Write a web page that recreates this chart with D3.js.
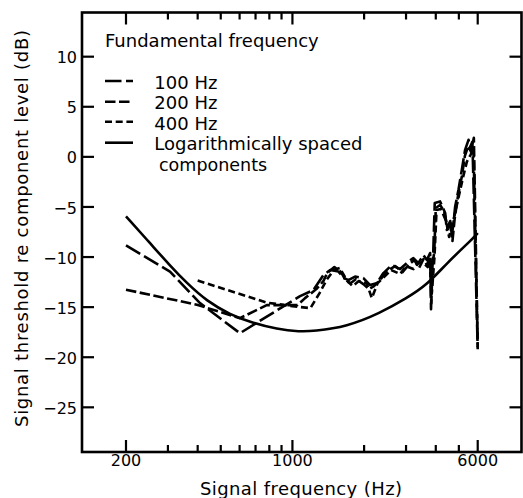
<!DOCTYPE html>
<html><head><meta charset="utf-8">
<script src="https://cdn.jsdelivr.net/npm/d3@7"></script>
<style>body{margin:0;background:#fff}svg{display:block}text{font-family:"DejaVu Sans",sans-serif;fill:#000}</style>
</head><body><svg id="c" width="523" height="498"></svg>
<script>
// ---- data: [signal frequency (Hz), threshold (dB)] ----
const sLog = [[200,-5.95],[250,-8.5],[306,-10.85],[360,-12.6],[437,-14.4],[547,-15.75],[685,-16.6],[859,-17.2],[1077,-17.45],[1224,-17.4],[1692,-16.95],[2335,-15.6],[3020,-14.1],[3670,-12.8],[4450,-10.6],[5760,-8.1],[6000,-7.6]];
const s100 = [[200,-8.84],[306,-11.45],[409,-14.6],[602,-17.6],[1077,-13.9],[1224,-13.3],[1349,-11.8],[1440,-11.3],[1560,-11.45],[1650,-12.1],[1718,-12.3],[1832,-11.95],[1986,-12.1],[2120,-12.8],[2262,-12.6],[2410,-11.6],[2613,-10.8],[2834,-11.2],[3070,-10.45],[3221,-10.1],[3381,-10.6],[3550,-9.8],[3670,-10.3],[3787,-9.6],[3820,-15.2],[3860,-11.5],[3900,-9.8],[3960,-4.6],[4170,-4.45],[4380,-5.6],[4450,-7.3],[4590,-6.6],[4670,-7.9],[4745,-6.6],[4825,-4.95],[4980,-3.3],[5145,-1.3],[5310,0.7],[5490,1.7],[5580,1.0],[5700,1.5],[6000,-19.2]];
const s200 = [[200,-13.26],[397,-14.76],[602,-16.1],[780,-14.8],[1050,-14.8],[1130,-14.1],[1260,-13.2],[1349,-12.4],[1400,-11.6],[1500,-11.0],[1600,-11.5],[1680,-12.4],[1760,-12.6],[1850,-12.2],[1986,-12.7],[2100,-13.2],[2200,-12.9],[2330,-12.3],[2500,-11.4],[2700,-10.9],[2900,-11.5],[3070,-10.8],[3250,-10.3],[3400,-11.1],[3550,-10.2],[3680,-10.8],[3780,-9.9],[3830,-14.6],[3880,-10.5],[3940,-9.6],[4000,-5.1],[4170,-4.8],[4330,-5.4],[4480,-7.0],[4600,-6.4],[4700,-8.4],[4800,-6.2],[4950,-4.0],[5150,-1.9],[5300,0.1],[5480,1.1],[5620,0.5],[5780,1.9],[6000,-19.0]];
const s400 = [[400,-12.35],[780,-14.55],[1000,-14.9],[1190,-15.1],[1300,-13.6],[1390,-12.3],[1490,-11.3],[1580,-11.1],[1700,-12.4],[1790,-12.9],[1900,-12.4],[2050,-12.6],[2155,-14.1],[2280,-12.6],[2400,-12.1],[2600,-11.3],[2834,-11.7],[3000,-10.9],[3221,-11.2],[3381,-10.6],[3550,-10.6],[3700,-11.0],[3800,-10.2],[3850,-13.6],[3950,-10.0],[4030,-5.3],[4200,-5.2],[4420,-6.4],[4550,-8.0],[4650,-7.0],[4800,-5.8],[5000,-3.9],[5200,-2.1],[5400,-0.5],[5600,0.2],[5760,0.8],[6000,-18.8]];
const xMajor = [200,1000,6000];
const xMinor = [300,400,500,600,700,800,900,2000,3000,4000,5000];
const yTicks = [10,5,0,-5,-10,-15,-20,-25];
const legendTitle = "Fundamental frequency";
const legendLabels = ["100 Hz","200 Hz","400 Hz","Logarithmically spaced"];
const legendLabel2 = "components";
const xTitle = "Signal frequency (Hz)";
const yTitle = "Signal threshold re component level (dB)";

const L=82, R=521.5, T=12.5, B=452;
const x = d3.scaleLog().domain([130.7,9163]).range([L,R]);
const y = d3.scaleLinear().domain([-29.46,14.41]).range([B,T]);
const svg = d3.select("#c");

// data lines
const smooth = d3.line().x(d=>x(d[0])).y(d=>y(d[1])).curve(d3.curveBasis);
const lin = d3.line().x(d=>x(d[0])).y(d=>y(d[1]));
const dashes = {"100":"16.5,4.5","200":"10.5,3.5","400":"7,3.7"};
svg.append("path").datum(sLog).attr("d", smooth).attr("fill","none").attr("stroke","#000").attr("stroke-width",2.6);
[[s100,"100"],[s200,"200"],[s400,"400"]].forEach(([s,k])=>{
  svg.append("path").datum(s).attr("d",lin).attr("fill","none").attr("stroke","#000")
    .attr("stroke-width",2.6).attr("stroke-dasharray",dashes[k]).attr("stroke-linejoin","round");
});

// frame
svg.append("rect").attr("x",L).attr("y",T).attr("width",R-L).attr("height",B-T)
  .attr("fill","none").attr("stroke","#000").attr("stroke-width",2.6);

// x ticks (inward, bottom and top)
const gx = svg.append("g");
xMajor.forEach(v=>{
  gx.append("line").attr("x1",x(v)).attr("x2",x(v)).attr("y1",B).attr("y2",B-12).attr("stroke","#000").attr("stroke-width",2.2);
  gx.append("line").attr("x1",x(v)).attr("x2",x(v)).attr("y1",T).attr("y2",T+12).attr("stroke","#000").attr("stroke-width",2.2);
  gx.append("text").attr("x",x(v)).attr("y",466).attr("text-anchor","middle").attr("font-size",16).text(v);
});
xMinor.forEach(v=>{
  gx.append("line").attr("x1",x(v)).attr("x2",x(v)).attr("y1",B).attr("y2",B-7).attr("stroke","#000").attr("stroke-width",2.2);
  gx.append("line").attr("x1",x(v)).attr("x2",x(v)).attr("y1",T).attr("y2",T+7).attr("stroke","#000").attr("stroke-width",2.2);
});
// y ticks
yTicks.forEach(v=>{
  svg.append("line").attr("x1",L).attr("x2",L+12).attr("y1",y(v)).attr("y2",y(v)).attr("stroke","#000").attr("stroke-width",2.2);
  svg.append("line").attr("x1",R).attr("x2",R-12).attr("y1",y(v)).attr("y2",y(v)).attr("stroke","#000").attr("stroke-width",2.2);
  svg.append("text").attr("x",77).attr("y",y(v)+6.6).attr("text-anchor","end").attr("font-size",16).text(v<0?"\u2212"+(-v):v);
});

// axis titles
svg.append("text").attr("x",301).attr("y",494.5).attr("text-anchor","middle").attr("font-size",18)
  .attr("textLength",202).attr("lengthAdjust","spacing").text(xTitle);
svg.append("text").attr("transform","translate(28,228.5) rotate(-90)").attr("text-anchor","middle").attr("font-size",18)
  .attr("textLength",397).attr("lengthAdjust","spacing").text(yTitle);

// legend
svg.append("text").attr("x",105).attr("y",47.3).attr("font-size",18).text(legendTitle);
const rows = [{k:"100",ly:81,ty:89},{k:"200",ly:101.7,ty:109.3},{k:"400",ly:121.7,ty:130},{k:"log",ly:142.7,ty:150}];
rows.forEach((r,i)=>{
  const ln = svg.append("line").attr("x1",105).attr("x2",133).attr("y1",r.ly).attr("y2",r.ly).attr("stroke","#000").attr("stroke-width",2.6);
  if(r.k!=="log") ln.attr("stroke-dasharray",dashes[r.k]);
  svg.append("text").attr("x",154.3).attr("y",r.ty).attr("font-size",18).text(legendLabels[i]);
});
svg.append("text").attr("x",159).attr("y",170.5).attr("font-size",17.5).text(legendLabel2);
</script></body></html>
